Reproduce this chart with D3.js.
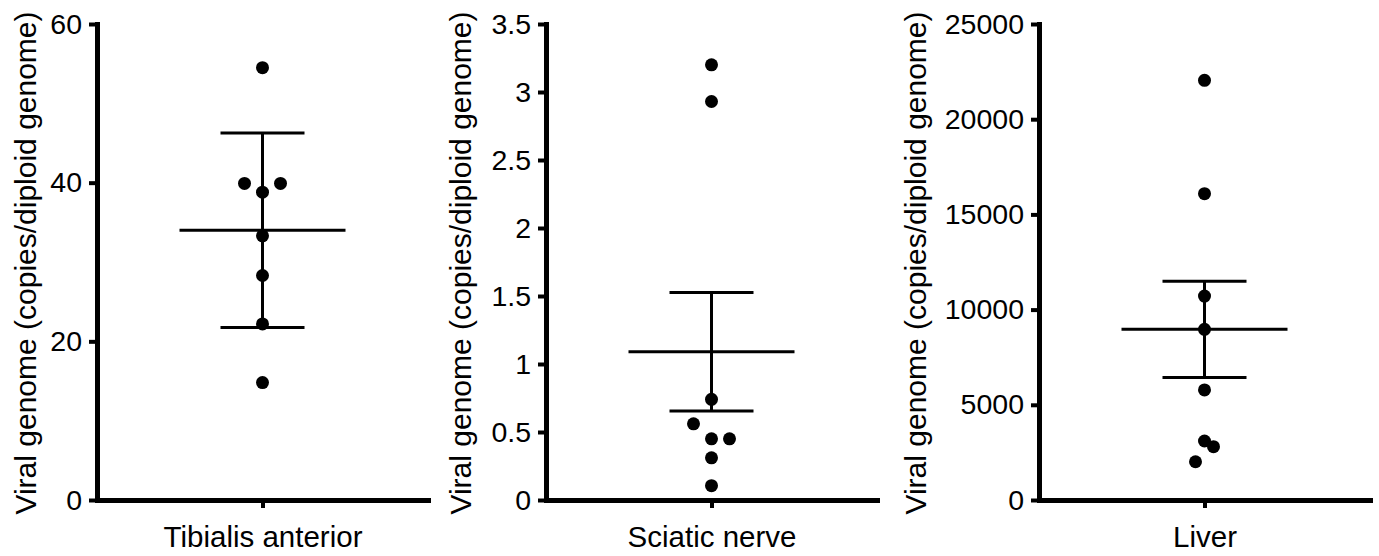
<!DOCTYPE html>
<html lang="en">
<head>
  <meta charset="UTF-8">
  <title>Viral genome</title>
  <style>
    body { margin: 0; background: #fff; }
    svg text { font-family: "Liberation Sans", Arial, sans-serif; fill: #000; }
  </style>
</head>
<body>

<svg id="chart" width="1379" height="556"></svg>

<script src="https://d3js.org/d3.v7.min.js"></script>

<script>
// data
var categories = ["Tibialis anterior", "Sciatic nerve", "Liver"];
var yTitle = "Viral genome (copies/diploid genome)";

var taValues = [54.5, 39.9, 39.9, 38.8, 33.3, 28.3, 22.2, 14.8];
var taSlots  = [0, -1, 1, 0, 0, 0, 0, 0];   // horizontal spread of the dots (in dot slots)
var snValues = [3.20, 2.93, 0.74, 0.56, 0.45, 0.45, 0.31, 0.105];
var snSlots  = [0, 0, 0, -1, 0, 1, 0, 0];
var lvValues = [22040, 16090, 10710, 8965, 5780, 3100, 2800, 2010];
var lvSlots  = [0, 0, 0, 0, 0, 0, 0.5, -0.5];

var means  = [34.0, 1.09, 8965];
var errors = [12.25, 0.435, 2530];

var yMax   = [60, 3.5, 25000];
var yTicks = [
  [0, 20, 40, 60],
  [0, 0.5, 1, 1.5, 2, 2.5, 3, 3.5],
  [0, 5000, 10000, 15000, 20000, 25000]
];

var values = [taValues, snValues, lvValues];
var slots  = [taSlots, snSlots, lvSlots];

// layout
var svg = d3.select("#chart");
var plotTop = 24, plotBottom = 500, plotW = 331;
var axisX = [97, 546, 1039];
var titleX = [36, 471, 926];
var r = 6.5;

var jitter = d3.scaleLinear().domain([-1, 1]).range([-18, 18]);

categories.forEach(function (cat, i) {
  var g = svg.append("g").attr("transform", "translate(" + axisX[i] + ",0)");

  var x = d3.scalePoint().domain([cat]).range([0, plotW]).padding(0.5);
  var y = d3.scaleLinear().domain([0, yMax[i]]).range([plotBottom, plotTop]);
  var cx = x(cat);

  // x axis
  var xa = g.append("g")
    .attr("transform", "translate(0," + plotBottom + ")")
    .call(d3.axisBottom(x).tickSize(8).tickSizeOuter(0).tickPadding(18));
  xa.select(".domain").attr("stroke-width", 5).attr("stroke-linecap", "square");
  xa.selectAll(".tick line").attr("stroke-width", 4);
  xa.selectAll("text").attr("font-size", 29.5);

  // y axis
  var ya = g.append("g")
    .call(d3.axisLeft(y).tickValues(yTicks[i]).tickFormat(function (d) { return d; })
      .tickSize(8).tickSizeOuter(0).tickPadding(7));
  ya.select(".domain").attr("stroke-width", 5).attr("stroke-linecap", "square");
  ya.selectAll(".tick line").attr("stroke-width", 4);
  ya.selectAll("text").attr("font-size", 28.5);

  // y title
  svg.append("text")
    .attr("transform", "translate(" + titleX[i] + "," + ((plotTop + plotBottom) / 2 + 1) + ") rotate(-90)")
    .attr("text-anchor", "middle")
    .attr("font-size", 30)
    .text(yTitle);

  // mean and error bar
  var m = means[i], e = errors[i];
  g.append("line")
    .attr("x1", cx).attr("x2", cx)
    .attr("y1", y(m + e)).attr("y2", y(m - e))
    .attr("stroke", "#000").attr("stroke-width", 3);
  [m + e, m - e].forEach(function (v) {
    g.append("line")
      .attr("x1", cx - 42).attr("x2", cx + 42)
      .attr("y1", y(v)).attr("y2", y(v))
      .attr("stroke", "#000").attr("stroke-width", 3);
  });
  g.append("line")
    .attr("x1", cx - 83).attr("x2", cx + 83)
    .attr("y1", y(m)).attr("y2", y(m))
    .attr("stroke", "#000").attr("stroke-width", 3);

  // dots
  g.selectAll("circle.dot")
    .data(values[i])
    .enter().append("circle")
    .attr("class", "dot")
    .attr("cx", function (d, j) { return cx + jitter(slots[i][j]); })
    .attr("cy", function (d) { return y(d); })
    .attr("r", r)
    .attr("fill", "#000");
});
</script>

</body>
</html>
